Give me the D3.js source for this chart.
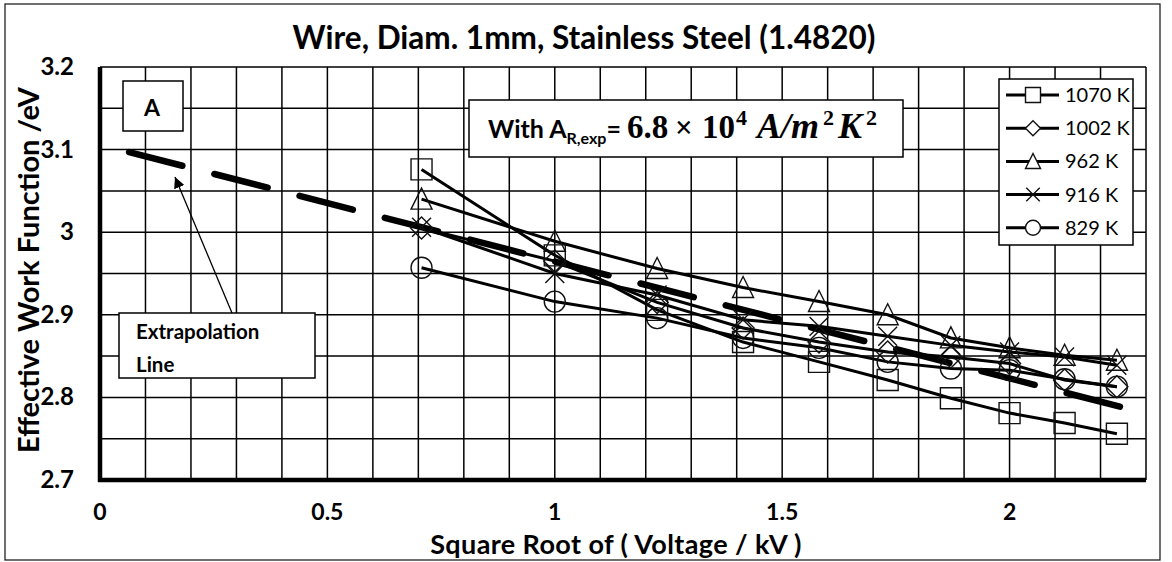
<!DOCTYPE html>
<html>
<head>
<meta charset="utf-8">
<style>
  body { margin: 0; background: #fff; }
  svg { display: block; font-family: Lato, "Open Sans", sans-serif; }
</style>
</head>
<body>
<div id="chart"></div>
<script src="https://cdn.jsdelivr.net/npm/d3@7"></script>
<script>

// data
var sqrtV = [0.707, 1, 1.225, 1.414, 1.581, 1.732, 1.871, 2, 2.121, 2.236];
var temps = ["1070 K", "1002 K", "962 K", "916 K", "829 K"];
var shapes = ["square", "diamond", "triangle", "cross", "circle"];
var w1070 = [3.076, 2.972, 2.906, 2.867, 2.843, 2.821, 2.799, 2.781, 2.769, 2.756];
var w1002 = [3.005, 2.965, 2.915, 2.884, 2.867, 2.855, 2.849, 2.841, 2.821, 2.813];
var w962  = [3.040, 2.989, 2.956, 2.933, 2.916, 2.900, 2.872, 2.860, 2.851, 2.845];
var w916  = [3.006, 2.950, 2.924, 2.894, 2.886, 2.874, 2.863, 2.855, 2.849, 2.839];
var w829  = [2.957, 2.916, 2.896, 2.872, 2.860, 2.843, 2.835, 2.833, 2.822, 2.813];
var extraX = [0.064, 2.248];
var extraY = [3.097, 2.788];
var xTicks = [0, 0.5, 1, 1.5, 2];
var yTicks = [2.7, 2.8, 2.9, 3, 3.1, 3.2];

var series = [w1070, w1002, w962, w916, w829];

var width = 1172, height = 562;
var margin = {left: 100, right: 26, top: 67, bottom: 82};

var svg = d3.select("#chart").append("svg")
    .attr("width", width)
    .attr("height", height);

// outer frame
svg.append("rect")
    .attr("x", 5).attr("y", 4)
    .attr("width", 1155).attr("height", 556)
    .attr("fill", "none").attr("stroke", "#222").attr("stroke-width", 1.3);

var x = d3.scaleLinear().domain([0, 2.3]).range([margin.left, width - margin.right]);
var y = d3.scaleLinear().domain([2.7, 3.2]).range([height - margin.bottom, margin.top]);

// grid
var grid = svg.append("g").attr("stroke", "#000").attr("stroke-width", 1.5);
d3.range(0, 24).map(function(i) { return i / 10; }).forEach(function(v) {
    grid.append("line")
        .attr("x1", x(v)).attr("x2", x(v))
        .attr("y1", y(2.7)).attr("y2", y(3.2));
});
d3.range(0, 11).map(function(i) { return 2.7 + i * 0.05; }).forEach(function(v) {
    grid.append("line")
        .attr("x1", x(0)).attr("x2", x(2.3))
        .attr("y1", y(v)).attr("y2", y(v));
});

// axes (thick)
svg.append("line")
    .attr("x1", x(0)).attr("x2", x(0))
    .attr("y1", y(3.2)).attr("y2", y(2.7) + 2)
    .attr("stroke", "#000").attr("stroke-width", 4.5);
svg.append("line")
    .attr("x1", x(0) - 2).attr("x2", x(2.3))
    .attr("y1", y(2.7)).attr("y2", y(2.7))
    .attr("stroke", "#000").attr("stroke-width", 4.5);

// tick labels
svg.append("g").selectAll("text").data(xTicks).enter().append("text")
    .attr("x", function(d) { return x(d); })
    .attr("y", 520)
    .attr("text-anchor", "middle")
    .attr("font-weight", "bold").attr("font-size", 23)
    .text(function(d) { return d3.format("")(d); });
svg.append("g").selectAll("text").data(yTicks).enter().append("text")
    .attr("x", 74)
    .attr("y", function(d) { return y(d) + 8; })
    .attr("text-anchor", "end")
    .attr("font-weight", "bold").attr("font-size", 24)
    .text(function(d) { return d3.format("")(d); });

// titles
svg.append("text")
    .attr("x", 584).attr("y", 49)
    .attr("text-anchor", "middle")
    .attr("font-weight", "bold").attr("font-size", 31.5)
    .text("Wire, Diam. 1mm, Stainless Steel (1.4820)");
svg.append("text")
    .attr("x", 616).attr("y", 554)
    .attr("text-anchor", "middle")
    .attr("font-weight", "bold").attr("font-size", 27)
    .attr("letter-spacing", 0.4)
    .text("Square Root of ( Voltage / kV )");
svg.append("text")
    .attr("transform", "translate(39,270) rotate(-90)")
    .attr("text-anchor", "middle")
    .attr("font-weight", "bold").attr("font-size", 29)
    .text("Effective Work Function /eV");

// marker shapes
function markerPath(shape, r) {
    if (shape == "square") return "M" + (-r) + "," + (-r) + "h" + 2 * r + "v" + 2 * r + "h" + (-2 * r) + "Z";
    if (shape == "diamond") return "M0," + (-r) + "L" + r + ",0L0," + r + "L" + (-r) + ",0Z";
    if (shape == "triangle") return "M0," + (-r * 1.05) + "L" + r + "," + r * 0.95 + "L" + (-r) + "," + r * 0.95 + "Z";
    if (shape == "cross") return "M" + (-r * 0.9) + "," + (-r * 0.9) + "L" + r * 0.9 + "," + r * 0.9 + "M" + (-r * 0.9) + "," + r * 0.9 + "L" + r * 0.9 + "," + (-r * 0.9);
    return "M" + (-r) + ",0A" + r + "," + r + " 0 1,0 " + r + ",0A" + r + "," + r + " 0 1,0 " + (-r) + ",0Z";
}

var line = d3.line()
    .x(function(d, i) { return x(sqrtV[i]); })
    .y(function(d) { return y(d); });

// data lines
series.forEach(function(s) {
    svg.append("path")
        .datum(s)
        .attr("d", line)
        .attr("fill", "none")
        .attr("stroke", "#000")
        .attr("stroke-width", 3);
});

// extrapolation line
svg.append("line")
    .attr("x1", x(extraX[0])).attr("y1", y(extraY[0]))
    .attr("x2", x(extraX[1])).attr("y2", y(extraY[1]))
    .attr("stroke", "#000").attr("stroke-width", 6.5)
    .attr("stroke-linecap", "round")
    .attr("stroke-dasharray", "55 33");

// markers
series.forEach(function(s, k) {
    svg.append("g").selectAll("path").data(s).enter().append("path")
        .attr("transform", function(d, i) { return "translate(" + x(sqrtV[i]) + "," + y(d) + ")"; })
        .attr("d", markerPath(shapes[k], k == 1 ? 11 : 10.5))
        .attr("fill", "none")
        .attr("stroke", "#111")
        .attr("stroke-width", 1.4);
});

// "A" box
svg.append("rect")
    .attr("x", 123).attr("y", 81).attr("width", 60).attr("height", 50)
    .attr("fill", "#fff").attr("stroke", "#000").attr("stroke-width", 1.5);
svg.append("text")
    .attr("x", 152).attr("y", 116)
    .attr("text-anchor", "middle")
    .attr("font-weight", "bold").attr("font-size", 23)
    .text("A");

// equation box
svg.append("rect")
    .attr("x", 469).attr("y", 100).attr("width", 434).attr("height", 57)
    .attr("fill", "#fff").attr("stroke", "#000").attr("stroke-width", 1.5);
var serif = "'Liberation Serif', 'DejaVu Serif', serif";
var eq = svg.append("text")
    .attr("x", 488).attr("y", 138)
    .attr("font-weight", "bold").attr("font-size", 25);
eq.append("tspan").text("With A");
eq.append("tspan").attr("font-size", 16).attr("dy", 6).text("R,exp");
eq.append("tspan").attr("dy", -6).text("=");
eq.append("tspan").attr("font-family", serif).attr("font-size", 33).attr("x", 627).text("6.8");
eq.append("tspan").attr("font-family", serif).attr("font-size", 31).attr("x", 675).text("\u00d7");
eq.append("tspan").attr("font-family", serif).attr("font-size", 33).attr("x", 702).text("10");
eq.append("tspan").attr("font-family", serif).attr("font-size", 22).attr("dx", 1).attr("dy", -13).text("4");
eq.append("tspan").attr("font-family", serif).attr("font-style", "italic").attr("font-size", 36).attr("dy", 13).attr("x", 757).text("A/m");
eq.append("tspan").attr("font-family", serif).attr("font-size", 22).attr("dx", 4).attr("dy", -13).text("2");
eq.append("tspan").attr("font-family", serif).attr("font-style", "italic").attr("font-size", 36).attr("dx", 4).attr("dy", 13).text("K");
eq.append("tspan").attr("font-family", serif).attr("font-size", 22).attr("dx", 4).attr("dy", -13).text("2");

// extrapolation label + arrow
svg.append("rect")
    .attr("x", 119).attr("y", 313).attr("width", 196).attr("height", 65)
    .attr("fill", "#fff").attr("stroke", "#000").attr("stroke-width", 1.5);
svg.append("text")
    .attr("x", 136).attr("y", 339)
    .attr("font-weight", "bold").attr("font-size", 20.5)
    .text("Extrapolation");
svg.append("text")
    .attr("x", 136).attr("y", 372)
    .attr("font-weight", "bold").attr("font-size", 20.5)
    .text("Line");
svg.append("defs").append("marker")
    .attr("id", "arrow")
    .attr("viewBox", "0 0 10 10")
    .attr("refX", 10).attr("refY", 5)
    .attr("markerWidth", 11).attr("markerHeight", 11)
    .attr("markerUnits", "userSpaceOnUse")
    .attr("orient", "auto")
    .append("path").attr("d", "M0,0L10,5L0,10Z").attr("fill", "#000");
svg.append("line")
    .attr("x1", 232).attr("y1", 313)
    .attr("x2", 175).attr("y2", 177)
    .attr("stroke", "#000").attr("stroke-width", 1.3)
    .attr("marker-end", "url(#arrow)");

// legend
var legend = svg.append("g");
legend.append("rect")
    .attr("x", 999).attr("y", 79).attr("width", 134).attr("height", 166)
    .attr("fill", "#fff").attr("stroke", "#000").attr("stroke-width", 1.5);
temps.forEach(function(t, k) {
    var ly = 95 + k * 33.2;
    legend.append("line")
        .attr("x1", 1006).attr("x2", 1059).attr("y1", ly).attr("y2", ly)
        .attr("stroke", "#000").attr("stroke-width", 3);
    legend.append("path")
        .attr("transform", "translate(1033," + ly + ")")
        .attr("d", markerPath(shapes[k], 7.5))
        .attr("fill", "#fff")
        .attr("stroke", "#111").attr("stroke-width", 1.4);
    legend.append("text")
        .attr("x", 1065).attr("y", ly + 7)
        .attr("font-size", 20)
        .text(t);
});

</script>
</body>
</html>
